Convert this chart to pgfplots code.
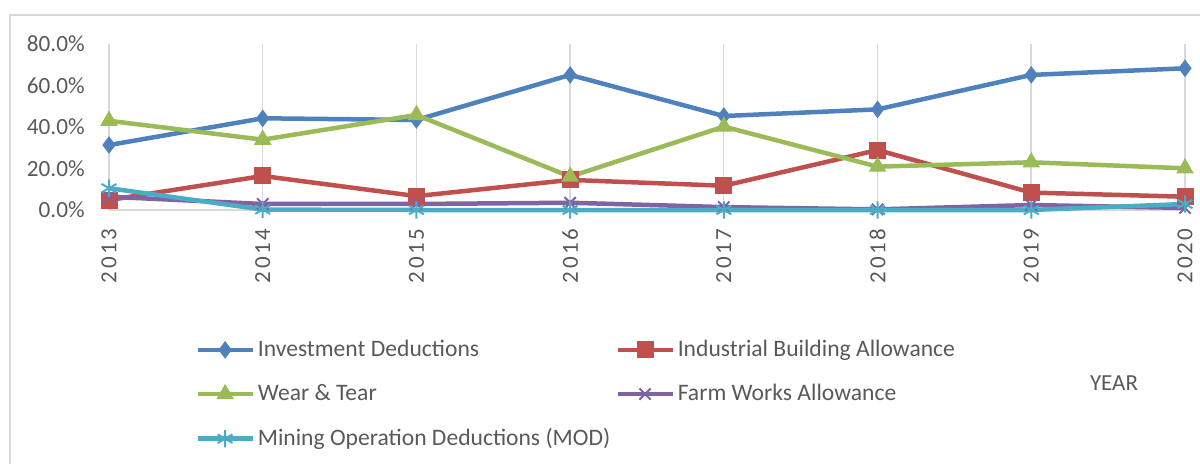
\documentclass[border=0pt]{standalone}
\usepackage{fontspec}
\setmainfont{Carlito}
\usepackage{pgfplots}
\pgfplotsset{compat=1.18}

\definecolor{idblue}{HTML}{4F81BD}
\definecolor{ibared}{HTML}{C0504D}
\definecolor{wtgreen}{HTML}{9BBB59}
\definecolor{fwpurple}{HTML}{8064A2}
\definecolor{modcyan}{HTML}{4BACC6}
\definecolor{gridgray}{HTML}{D9D9D9}
\definecolor{txtgray}{HTML}{595959}

\begin{document}
\fontsize{11}{13}\selectfont
\begin{tikzpicture}
\useasboundingbox (0,0) rectangle (600pt,231.5pt);
\clip (0,0) rectangle (600pt,231.5pt);
% outer chart frame
\draw[gridgray, line width=0.9pt] (5pt,-20pt) rectangle (640pt,224pt);

\begin{axis}[
    at={(54.5pt,126.5pt)}, anchor=south west,
    width=538pt, height=83pt, scale only axis,
    xmin=2013, xmax=2020, ymin=0, ymax=80,
    axis x line*=bottom, axis y line*=left,
    x axis line style={-, draw=gridgray, line width=0.8pt},
    y axis line style={draw=none},
    major tick length=0pt,
    xtick={2013,...,2020},
    xticklabels={2013,2014,2015,2016,2017,2018,2019,2020},
    ytick={0,20,40,60,80},
    yticklabels={0.0\%,20.0\%,40.0\%,60.0\%,80.0\%},
    /pgf/number format/assume math mode=true,
    xmajorgrids, grid style={gridgray, line width=0.7pt},
    tick label style={text=txtgray, font=\fontsize{11.6}{13}\selectfont},
    xticklabel style={rotate=90, anchor=east, inner sep=0pt,
        font=\fontsize{11.5}{13}\selectfont\addfontfeature{LetterSpace=12}},
    yticklabel style={anchor=east, inner sep=0pt},
    xticklabel shift=9pt, yticklabel shift=12pt,
    clip=false,
    legend columns=2,
    legend cell align=left,
    legend style={at={(0.0799,-0.763)}, anchor=north west, draw=none, fill=none,
        inner sep=0pt, row sep=9.25pt, text=txtgray,
        nodes={inner sep=1.5pt},
        font=\fontsize{11.8}{14}\selectfont,
        /tikz/every even column/.append style={column sep=1pt}},
    legend image code/.code={\draw[mark repeat=2,mark phase=2]
        plot coordinates {(0pt,0pt) (13.75pt,0pt) (27.5pt,0pt)};},
    every axis plot/.append style={line width=2.25pt},
]
\addplot[idblue, mark=diamond*, mark size=4pt,
    mark options={fill=idblue, line width=0.5pt}] coordinates {
    (2013,31.3) (2014,44.2) (2015,43.4) (2016,65.1)
    (2017,45.3) (2018,48.5) (2019,65.1) (2020,68.3)
};
\addplot[ibared, mark=square*, mark size=4pt,
    mark options={fill=ibared, line width=0.5pt}] coordinates {
    (2013,4.8) (2014,16.4) (2015,6.7) (2016,14.5)
    (2017,11.7) (2018,28.9) (2019,8.4) (2020,6.4)
};
\addplot[wtgreen, mark=triangle*, mark size=4.6pt,
    mark options={fill=wtgreen, line width=0.5pt}] coordinates {
    (2013,43.0) (2014,33.9) (2015,45.8) (2016,16.1)
    (2017,40.2) (2018,20.9) (2019,23.0) (2020,20.1)
};
\addplot[fwpurple, mark=x, mark size=4pt,
    mark options={line width=1pt}] coordinates {
    (2013,6.4) (2014,2.9) (2015,2.9) (2016,3.5)
    (2017,1.4) (2018,0.3) (2019,2.4) (2020,1.0)
};
\addplot[modcyan, mark=asterisk, mark size=4.3pt,
    mark options={line width=1pt}] coordinates {
    (2013,10.5) (2014,0.2) (2015,0.0) (2016,0.0)
    (2017,0.0) (2018,0.0) (2019,0.0) (2020,2.9)
};
\legend{Investment Deductions, Industrial Building Allowance,
    Wear \& Tear, Farm Works Allowance,
    Mining Operation Deductions (MOD)}
\end{axis}
\node[text=txtgray, anchor=center, font=\fontsize{11.5}{13}\selectfont] at (557pt,40pt) {YEAR};
\end{tikzpicture}
\end{document}
